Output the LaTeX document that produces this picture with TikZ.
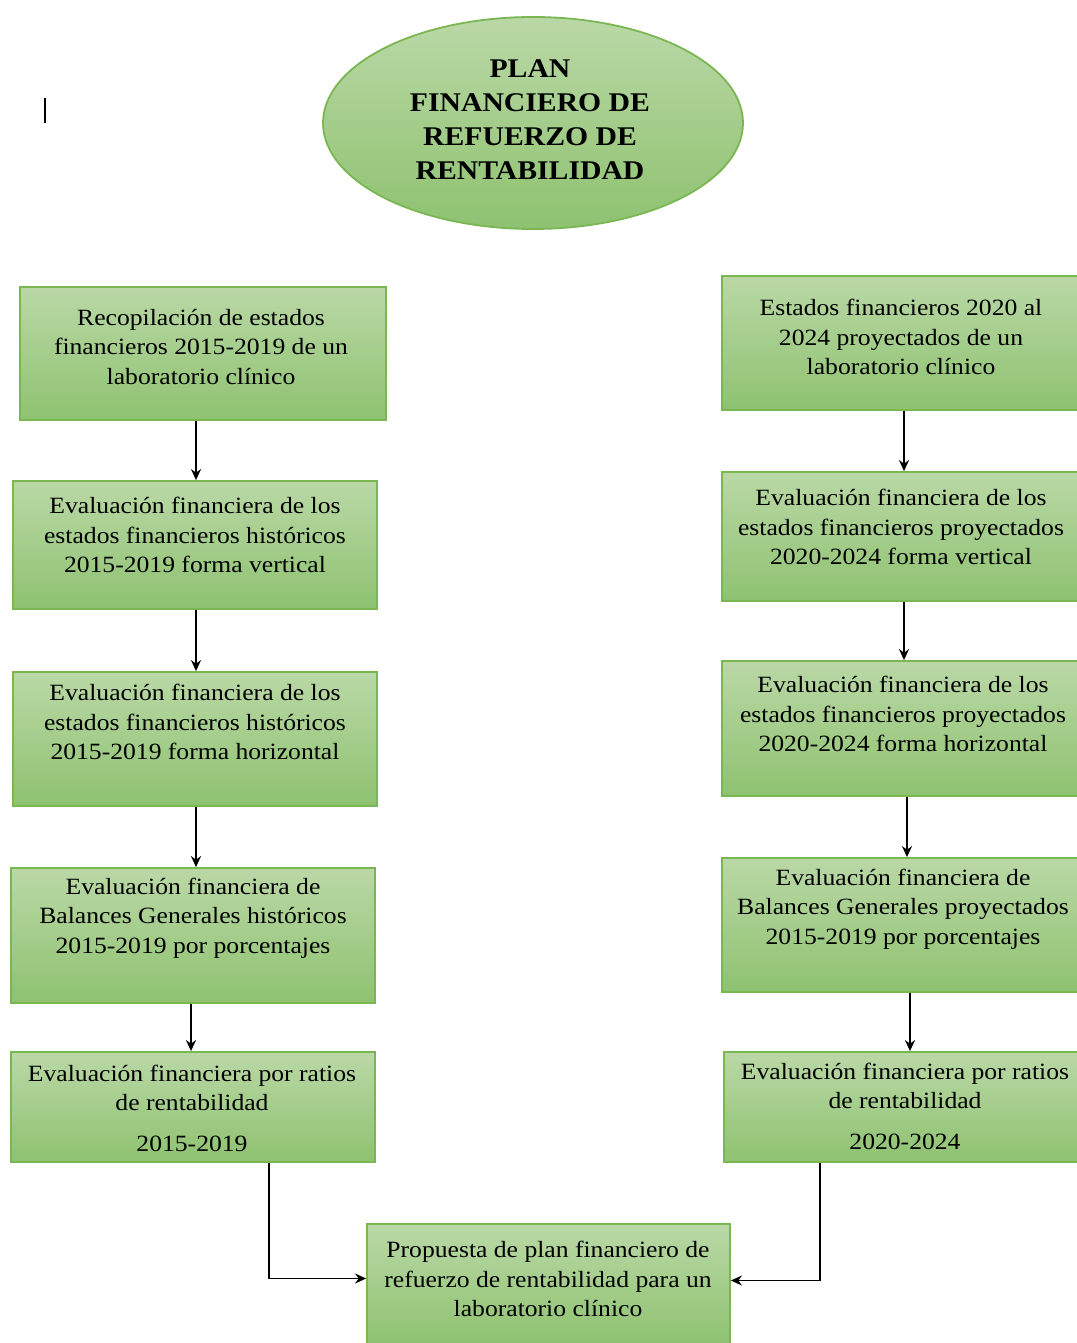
\documentclass[tikz,border=0pt]{standalone}
\usepackage{fontspec}
\setmainfont{Liberation Serif}[FakeStretch=1.1]
\usetikzlibrary{shapes.geometric,arrows.meta}
\pgfdeclarelayer{bg}
\pgfsetlayers{bg,main}
\definecolor{gtop}{RGB}{186,216,166}
\definecolor{gbot}{RGB}{142,194,112}
\definecolor{gline}{RGB}{122,182,82}
\tikzset{
  gbox/.style={draw=gline, line width=1.8pt, top color=gtop, bottom color=gbot, rectangle, inner sep=0pt},
  txt/.style={align=center, font=\fontsize{23.3}{29.5}\selectfont, inner sep=0pt},
  arr/.style={draw=black, line width=1.8pt, -{Stealth[length=11pt,width=10pt]}},
}
\begin{document}
\begin{tikzpicture}[x=1pt,y=-1pt]
\useasboundingbox (0,0) rectangle (1076,1343);
\fill[white] (0,0) rectangle (1076,1343);
% cursor mark
\draw[line width=1.5pt] (45,98) -- (45,123);
% ellipse
\node[ellipse, draw=gline, line width=1.8pt, top color=gtop, bottom color=gbot, minimum width=420, minimum height=212, inner sep=0pt] (ell) at (533,123) {};
\node[align=center, font=\fontsize{27}{34}\bfseries\selectfont, inner sep=0pt] (ellt) at (530,120) {PLAN\\FINANCIERO DE\\REFUERZO DE\\RENTABILIDAD};
% left boxes
\node[gbox, minimum width=366, minimum height=133] (l1) at (203,353.5) {};
\node[txt] (l1t) at (201,347) {Recopilación de estados\\financieros 2015-2019 de un\\laboratorio clínico};
\node[gbox, minimum width=364, minimum height=128] (l2) at (195,545) {};
\node[txt] (l2t) at (195,535) {Evaluación financiera de los\\estados financieros históricos\\2015-2019 forma vertical};
\node[gbox, minimum width=364, minimum height=134] (l3) at (195,739) {};
\node[txt] (l3t) at (195,722) {Evaluación financiera de los\\estados financieros históricos\\2015-2019 forma horizontal};
\node[gbox, minimum width=364, minimum height=135] (l4) at (193,935.5) {};
\node[txt] (l4t) at (193,918) {Evaluación financiera de\\Balances Generales históricos\\2015-2019 por porcentajes};
\node[gbox, minimum width=364, minimum height=110] (l5) at (193,1107) {};
\node[txt] (l5t) at (192,1108) {Evaluación financiera por ratios\\de rentabilidad\\[11pt]2015-2019};
% right boxes
\node[gbox, minimum width=356, minimum height=134] (r1) at (900,343) {};
\node[txt] (r1t) at (901,337) {Estados financieros 2020 al\\2024 proyectados de un\\laboratorio clínico};
\node[gbox, minimum width=356, minimum height=129] (r2) at (900,536.5) {};
\node[txt] (r2t) at (901,527) {Evaluación financiera de los\\estados financieros proyectados\\2020-2024 forma vertical};
\node[gbox, minimum width=356, minimum height=135] (r3) at (900,728.5) {};
\node[txt] (r3t) at (903,714) {Evaluación financiera de los\\estados financieros proyectados\\2020-2024 forma horizontal};
\node[gbox, minimum width=356, minimum height=134] (r4) at (900,925) {};
\node[txt] (r4t) at (903,909) {Evaluación financiera de\\Balances Generales proyectados\\2015-2019 por porcentajes};
\node[gbox, minimum width=354, minimum height=110] (r5) at (901,1107) {};
\node[txt] (r5t) at (905,1106) {Evaluación financiera por ratios\\de rentabilidad\\[11pt]2020-2024};
% bottom box
\node[gbox, minimum width=363, minimum height=122] (b) at (548.5,1285) {};
\node[txt] (bt) at (548,1279) {Propuesta de plan financiero de\\refuerzo de rentabilidad para un\\laboratorio clínico};
% connectors
\begin{pgfonlayer}{bg}
\draw[arr] ([xshift=-76pt]ell.center) |- ([yshift=27.5pt]l1.east);
\draw[arr] ([xshift=95pt]ell.center) |- ([yshift=25pt]r1.west);
\end{pgfonlayer}
\draw[arr] ([xshift=-7pt]l1.south) -- ([xshift=1pt]l2.north);
\draw[arr] ([xshift=1pt]l2.south) -- ([xshift=1pt]l3.north);
\draw[arr] ([xshift=1pt]l3.south) -- ([xshift=3pt]l4.north);
\draw[arr] ([xshift=-2pt]l4.south) -- ([xshift=-2pt]l5.north);
\draw[arr] ([xshift=4pt]r1.south) -- ([xshift=4pt]r2.north);
\draw[arr] ([xshift=4pt]r2.south) -- ([xshift=4pt]r3.north);
\draw[arr] ([xshift=7pt]r3.south) -- ([xshift=7pt]r4.north);
\draw[arr] ([xshift=10pt]r4.south) -- ([xshift=9pt]r5.north);
\draw[arr] ([xshift=76pt]l5.south) |- ([yshift=6.5pt]b.west);
\draw[arr] ([xshift=-81pt]r5.south) |- ([yshift=4.5pt]b.east);
\end{tikzpicture}
\end{document}
